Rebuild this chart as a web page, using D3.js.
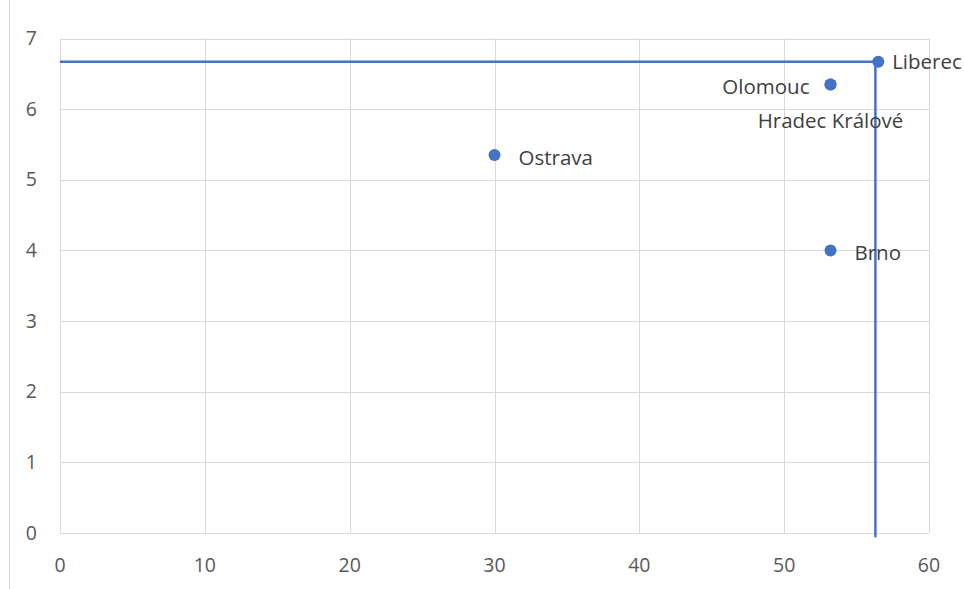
<!DOCTYPE html>
<html>
<head>
<meta charset="utf-8">
<script src="https://cdn.jsdelivr.net/npm/d3@7/dist/d3.min.js"></script>
<style>
  html, body { margin: 0; padding: 0; background: #fff; }
  svg { display: block; font-family: "Open Sans", "Noto Sans", sans-serif; }
</style>
</head>
<body>
<svg id="chart" width="964" height="589"></svg>
<script>
// City scores
const cities  = ["Liberec", "Olomouc", "Hradec Králové", "Ostrava", "Brno"];
const xValues = [56.5, 53.2, 53.2, 30, 53.2];
const yValues = [6.67, 6.35, 6.35, 5.35, 4.0];
// label placement relative to each point
const labelPos = ["right", "left", "below", "right", "right"];

// reference lines
const refX = 56.3;
const refY = 6.67;

const xTicks = [0, 10, 20, 30, 40, 50, 60];
const yTicks = [0, 1, 2, 3, 4, 5, 6, 7];

const W = 964, H = 589;
const svg = d3.select("#chart");

const x = d3.scaleLinear().domain([0, 60]).range([60, 929]);
const y = d3.scaleLinear().domain([0, 7]).range([533, 38.5]);

const TICK_FONT = 19.5;
const LABEL_FONT = 20.5;

// outer border line at left
svg.append("line").attr("x1", 9.5).attr("x2", 9.5).attr("y1", 0).attr("y2", H)
  .attr("stroke", "#d9d9d9").attr("stroke-width", 1);

// gridlines
svg.append("g").selectAll("line").data(xTicks).join("line")
  .attr("x1", d => Math.round(x(d)) + 0.5).attr("x2", d => Math.round(x(d)) + 0.5)
  .attr("y1", y(7)).attr("y2", y(0))
  .attr("stroke", "#d9d9d9").attr("stroke-width", 1);
svg.append("g").selectAll("line").data(yTicks).join("line")
  .attr("x1", x(0)).attr("x2", x(60))
  .attr("y1", d => Math.round(y(d)) + 0.5).attr("y2", d => Math.round(y(d)) + 0.5)
  .attr("stroke", "#d9d9d9").attr("stroke-width", 1);

// tick labels
svg.append("g").selectAll("text").data(xTicks).join("text")
  .attr("x", d => x(d)).attr("y", 572)
  .attr("text-anchor", "middle")
  .attr("font-size", TICK_FONT).attr("fill", "#595959")
  .text(d => d);
svg.append("g").selectAll("text").data(yTicks).join("text")
  .attr("x", 37).attr("y", d => y(d) + 6.5)
  .attr("text-anchor", "end")
  .attr("font-size", TICK_FONT).attr("fill", "#595959")
  .text(d => d);

// reference lines
const blue = "#4472C4";
svg.append("line")
  .attr("x1", x(0)).attr("x2", x(xValues[0]))
  .attr("y1", y(refY)).attr("y2", y(refY))
  .attr("stroke", blue).attr("stroke-width", 2.5);
svg.append("line")
  .attr("x1", x(refX)).attr("x2", x(refX))
  .attr("y1", y(-0.06)).attr("y2", y(refY))
  .attr("stroke", blue).attr("stroke-width", 2.5);

// points
const pts = cities.map((c, i) => ({ c, x: xValues[i], y: yValues[i], pos: labelPos[i] }));
svg.append("g").selectAll("circle").data(pts).join("circle")
  .attr("cx", d => x(d.x)).attr("cy", d => y(d.y)).attr("r", 6)
  .attr("fill", blue);

// labels, kept inside the canvas on the right
const labels = svg.append("g").selectAll("text").data(pts).join("text")
  .attr("x", d => d.pos === "right" ? x(d.x) + 24 : d.pos === "left" ? x(d.x) - 21 : x(d.x))
  .attr("y", d => d.pos === "below" ? y(d.y) + 43.5 : y(d.y) + 10)
  .attr("text-anchor", d => d.pos === "right" ? "start" : d.pos === "left" ? "end" : "middle")
  .attr("font-size", LABEL_FONT).attr("fill", "#404040")
  .text(d => d.c);
labels.each(function(d) {
  const b = this.getBBox();
  const over = b.x + b.width - (W - 2);
  if (over > 0) {
    d3.select(this).attr("x", +d3.select(this).attr("x") - over)
      .attr("y", y(d.y) + 7);
  }
});
</script>
</body>
</html>
